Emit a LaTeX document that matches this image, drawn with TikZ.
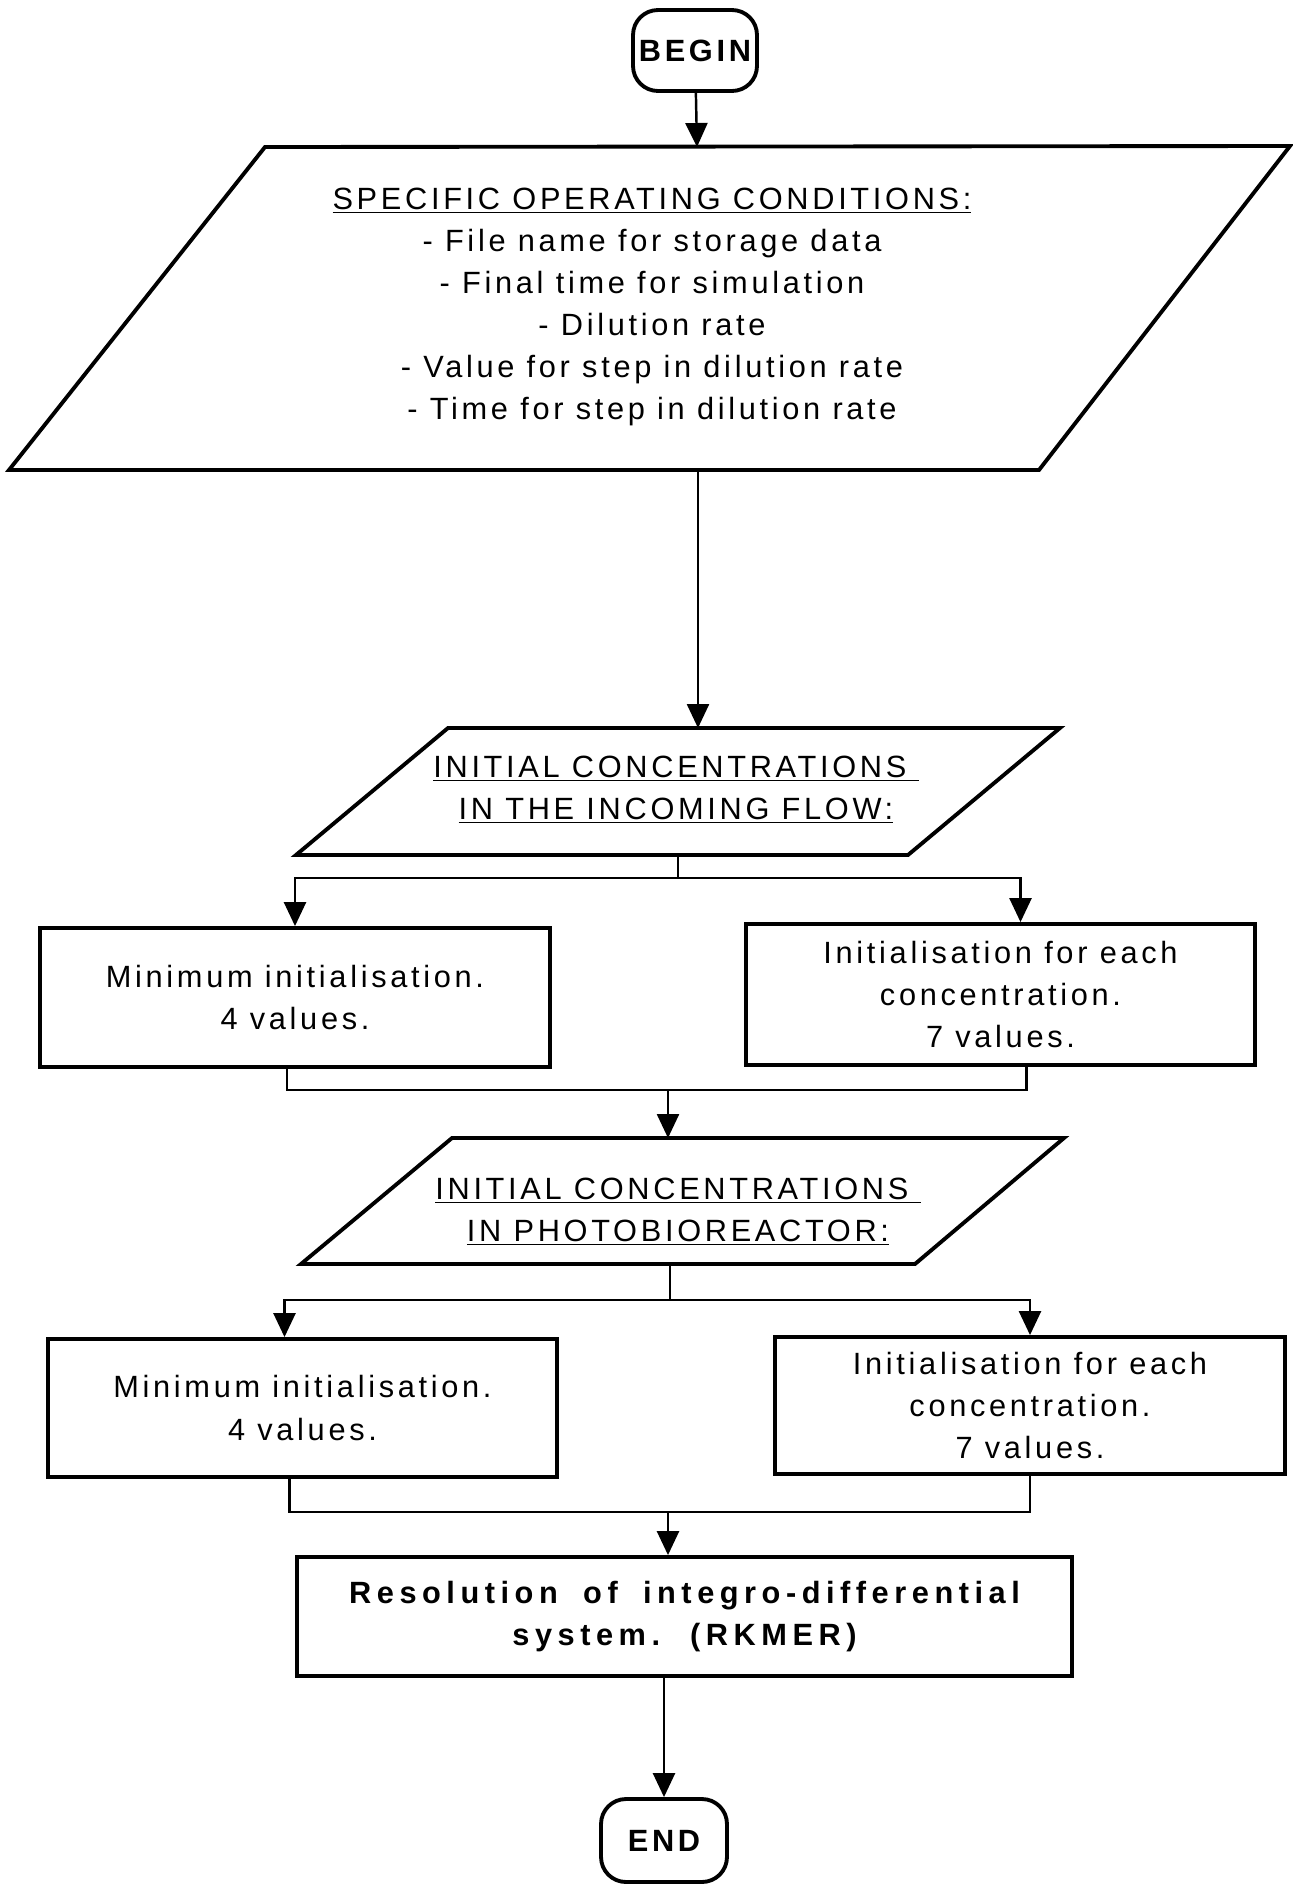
\documentclass[tikz,border=0pt]{standalone}
\usepackage{fontspec}
\setmainfont{Liberation Sans}[LetterSpace=12]
\newfontfamily\widefont{Liberation Sans}[LetterSpace=18,WordSpace=1.8]
\usetikzlibrary{arrows.meta,calc}

\newcommand\chartfont{\fontsize{17.5}{24}\selectfont}

\tikzset{
  frame/.style={line width=2.2pt},
  link/.style={line width=1.4pt},
  flow/.style={link,-{Triangle[length=0.48cm,width=0.44cm]}},
  term/.style={draw,frame,rounded corners=0.5cm,inner sep=0pt,
    font=\chartfont\bfseries},
  stepbox/.style={draw,frame,align=center,inner sep=0pt},
  txt/.style={align=center},
}

\begin{document}
\begin{tikzpicture}[x=0.02cm,y=-0.02cm,every node/.style={font=\chartfont}]
\useasboundingbox (0,0) rectangle (1293,1884);

\node[term,minimum width=2.48cm,minimum height=1.62cm] (begin) at (695,50.5) {BEGIN};

% operating conditions
\draw[frame] (265,147) -- (1290,146) -- (1039,470) -- (9,470) -- cycle;
\coordinate (specIn) at (697,147);
\coordinate (specOut) at (698,470);
\node[txt] (spec) at (652,307) {\underline{SPECIFIC OPERATING CONDITIONS:}\\
  - File name for storage data\\
  - Final time for simulation\\
  - Dilution rate\\
  - Value for step in dilution rate\\
  - Time for step in dilution rate};

% incoming flow
\draw[frame] (448,728) -- (1060,728) -- (908,855) -- (296,855) -- cycle;
\coordinate (inflowIn) at (698,728);
\coordinate (inflowOut) at (678,855);
\node[txt] (inflow) at (676,790) {\underline{INITIAL CONCENTRATIONS~}\\
  \underline{IN THE INCOMING FLOW:}};

\node[stepbox,minimum width=10.2cm,minimum height=2.78cm] (minA) at (295,997.5)
  {Minimum initialisation.\\4 values.};
\node[stepbox,minimum width=10.18cm,minimum height=2.82cm] (eachA) at (1000.5,994.5)
  {Initialisation for each\\concentration.\\7 values.};

% photobioreactor
\draw[frame] (452,1138) -- (1064,1138) -- (915,1264) -- (301,1264) -- cycle;
\coordinate (photoIn) at (668,1138);
\coordinate (photoOut) at (670,1264);
\node[txt] (photo) at (678,1212) {\underline{INITIAL CONCENTRATIONS~}\\
  \underline{IN PHOTOBIOREACTOR:}};

\node[stepbox,minimum width=10.18cm,minimum height=2.76cm] (minB) at (302.5,1408)
  {Minimum initialisation.\\4 values.};
\node[stepbox,minimum width=10.2cm,minimum height=2.74cm] (eachB) at (1030,1405.5)
  {Initialisation for each\\concentration.\\7 values.};

\node[stepbox,minimum width=15.5cm,minimum height=2.38cm,
  font=\chartfont\widefont\bfseries] (resol) at (684.5,1616.5)
  {Resolution of integro-differential\\system. (RKMER)};

\node[term,minimum width=2.52cm,minimum height=1.66cm] (end) at (664,1840.5) {END};

% connectors
\draw[flow] (begin) -- (specIn);
\draw[flow] (specOut) -- (inflowIn);

\draw[link] (inflowOut) -- ++(0,23) coordinate (forkA);
\draw[flow] (forkA) -| (minA);
\draw[flow] (forkA) -| ($(eachA.north)+(20,0)$);
\coordinate (mergeA) at (668,1090);
\draw[link] ($(minA.south)+(-8,0)$) |- (mergeA) -| ($(eachA.south)+(26,0)$);
\draw[flow] (mergeA) -- (photoIn);

\draw[link] (photoOut) -- ++(0,36) coordinate (forkB);
\draw[flow] (forkB) -| ($(minB.north)+(-18,0)$);
\draw[flow] (forkB) -| (eachB);
\coordinate (mergeB) at (668,1512);
\draw[link] ($(minB.south)+(-13,0)$) |- (mergeB) -| (eachB.south);
\draw[flow] (mergeB) -- (mergeB |- resol.north);

\draw[flow] (resol.south -| end) -- (end);
\end{tikzpicture}
\end{document}
